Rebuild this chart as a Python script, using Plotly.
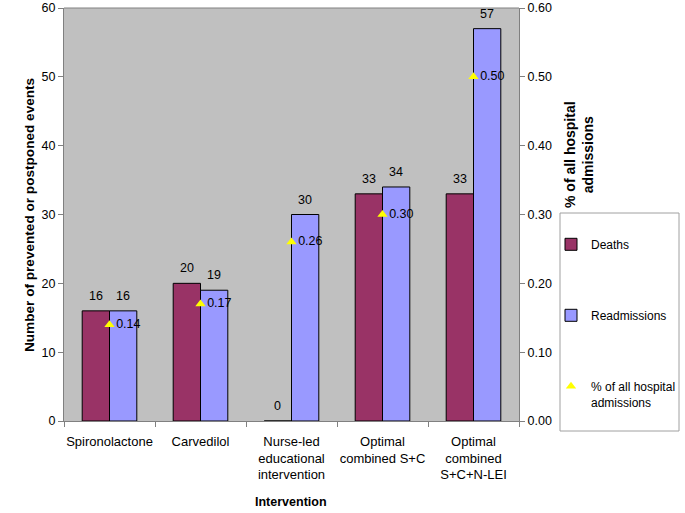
import plotly.graph_objects as go

categories = ["Spironolactone", "Carvedilol", "Nurse-led<br>educational<br>intervention",
              "Optimal<br>combined S+C", "Optimal<br>combined<br>S+C+N-LEI"]
deaths = [16, 20, 0, 33, 33]
readmissions = [16, 19, 30, 34, 57]
pct_admissions = [0.14, 0.17, 0.26, 0.30, 0.50]
left_ticks = [0, 10, 20, 30, 40, 50, 60]
right_ticks = [0.0, 0.1, 0.2, 0.3, 0.4, 0.5, 0.6]

FONT = "Liberation Sans, Arial, sans-serif"
W, H = 685, 513
L, R, T, B = 64, 166, 8, 92
PW, PH = W - L - R, H - T - B

def px_x(px):
    return (px - L) / PW

def px_y(py):
    return (H - B - py) / PH

fig = go.Figure()
fig.add_trace(go.Bar(
    x=categories, y=deaths, name="Deaths", marker=dict(color="#993366", line=dict(color="#000000", width=1)),
    legendgroup="a"))
fig.add_trace(go.Bar(
    x=categories, y=readmissions, name="Readmissions", marker=dict(color="#9999FF", line=dict(color="#000000", width=1)),
    legendgroup="b"))
fig.add_trace(go.Scatter(
    x=categories, y=pct_admissions, yaxis="y2", mode="markers+text", name="% of all hospital<br>admissions",
    marker=dict(symbol="triangle-up", color="#FFFF00", size=9),
    text=[f"{v:.2f}" for v in pct_admissions], textposition="middle right",
    textfont=dict(family=FONT, size=12.5, color="#000000"), cliponaxis=False, legendgroup="c"))

ann = []
bw = 0.6 * PW / len(categories) / 2
for c, v in zip(categories, deaths):
    ann.append(dict(x=c, y=v, xref="x", yref="y", text=str(v), showarrow=False, xshift=-bw / 2,
                    xanchor="center", yanchor="bottom", yshift=6, font=dict(family=FONT, size=12.5, color="#000000")))
for c, v in zip(categories, readmissions):
    ann.append(dict(x=c, y=v, xref="x", yref="y", text=str(v), showarrow=False, xshift=bw / 2,
                    xanchor="center", yanchor="bottom", yshift=6, font=dict(family=FONT, size=12.5, color="#000000")))
ann.append(dict(x=px_x(29), y=px_y(215), xref="paper", yref="paper", text="<b>Number of prevented or postponed events</b>",
                textangle=-90, showarrow=False, xanchor="center", yanchor="middle",
                font=dict(family=FONT, size=13.6, color="#000000")))
ann.append(dict(x=px_x(579), y=px_y(155), xref="paper", yref="paper", text="<b>% of all hospital<br>admissions</b>",
                textangle=-90, showarrow=False, xanchor="center", yanchor="middle",
                font=dict(family=FONT, size=14, color="#000000")))
ann.append(dict(x=px_x(291), y=px_y(502), xref="paper", yref="paper", text="<b>Intervention</b>",
                showarrow=False, xanchor="center", yanchor="middle",
                font=dict(family=FONT, size=12.5, color="#000000")))

shapes = [
    dict(type="line", xref="paper", yref="paper", x0=0, x1=1, y0=1, y1=1, line=dict(color="#808080", width=1)),
    dict(type="rect", xref="paper", yref="paper", x0=px_x(560), x1=px_x(679), y0=px_y(431), y1=px_y(213),
         line=dict(color="#A0A0A0", width=1), fillcolor="rgba(0,0,0,0)"),
]

fig.update_layout(
    width=W, height=H, margin=dict(l=L, r=R, t=T, b=B, autoexpand=False),
    paper_bgcolor="#FFFFFF", plot_bgcolor="#C0C0C0",
    barmode="group", bargap=0.4, bargroupgap=0,
    font=dict(family=FONT, size=12.5, color="#000000"),
    xaxis=dict(type="category", showgrid=False, showline=True, linecolor="#808080", ticks="outside",
               tickson="boundaries", ticklen=5, tickcolor="#808080", tickfont=dict(size=13),
               tickangle=0, automargin=False, ticklabelstandoff=8),
    yaxis=dict(range=[0, 60], tickvals=left_ticks, showgrid=False, showline=True, linecolor="#808080",
               ticks="outside", ticklen=5, tickcolor="#808080", zeroline=False, tickfont=dict(size=12.5),
               automargin=False),
    yaxis2=dict(range=[0, 0.6], tickvals=right_ticks, tickformat=".2f", overlaying="y", side="right",
                showgrid=False, showline=True, linecolor="#808080", ticks="outside", ticklen=5,
                tickcolor="#808080", zeroline=False, tickfont=dict(size=12.5), automargin=False),
    legend=dict(x=px_x(551), y=px_y(230), xanchor="left", yanchor="top", bgcolor="rgba(0,0,0,0)",
                borderwidth=0, tracegroupgap=52, traceorder="grouped", valign="top",
                font=dict(family=FONT, size=12, color="#000000")),
    annotations=ann, shapes=shapes,
)

fig.write_html("out.html", config={"displayModeBar": False},
               post_script="document.body.style.margin='0px';")
